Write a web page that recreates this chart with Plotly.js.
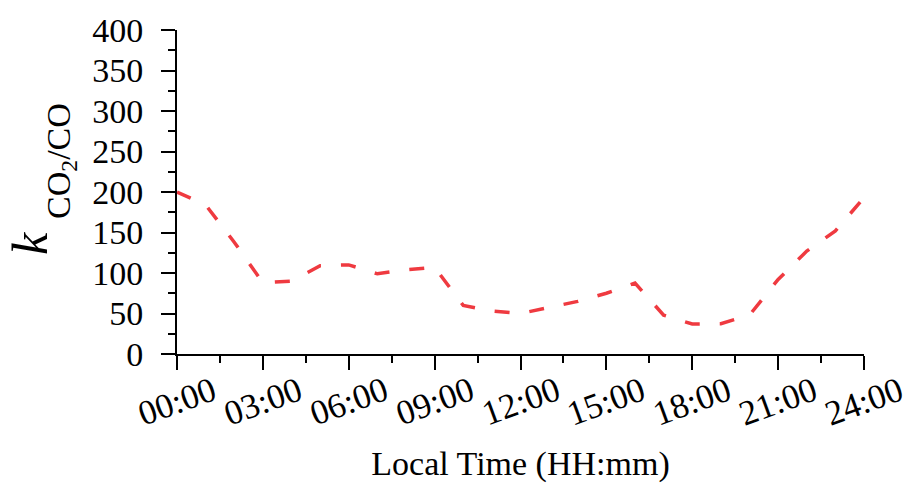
<!DOCTYPE html>
<html>
<head>
<meta charset="utf-8">
<script src="https://cdn.plot.ly/plotly-3.0.1.min.js"></script>
<style>
  html, body { margin: 0; padding: 0; background: #ffffff; }
  #chart { width: 904px; height: 484px; }
</style>
</head>
<body>
<div id="chart"></div>
<script>
// Diurnal CO2/CO ratio, hour of day (local time)
const hours = [0, 1, 2, 3, 4, 5, 6, 7, 8, 9, 10, 11, 12,
               13, 14, 15, 16, 17, 18, 19, 20, 21, 22, 23, 24];
const kRatio = [200, 184, 138, 88, 90, 109, 110, 99, 104, 107, 60, 53, 50,
                58, 65, 75, 87.5, 48, 37, 37.5, 48, 92, 127, 152, 193];

// x-axis tick positions (hours) and their labels
const tickHours = [0, 3, 6, 9, 12, 15, 18, 21, 24];
const tickLabels = ['00:00', '03:00', '06:00', '09:00', '12:00',
                    '15:00', '18:00', '21:00', '24:00'];

const W = 904, H = 484;
const M = { l: 177, r: 40, t: 30, b: 130 };
const plotW = W - M.l - M.r, plotH = H - M.t - M.b;
const serif = '"Liberation Serif", "Times New Roman", Times, serif';

// pixel -> paper helpers for text placed outside the plot area
const px = x => (x - M.l) / plotW;
const py = y => (H - M.b - y) / plotH;

const trace = {
  x: hours,
  y: kRatio,
  type: 'scatter',
  mode: 'lines',
  line: { color: '#EF3A40', width: 3.5, dash: '15px,20px' },
  hoverinfo: 'x+y'
};

const tickAnnotations = tickHours.map((h, i) => ({
  x: h, xref: 'x',
  y: py(401), yref: 'paper',
  text: tickLabels[i],
  textangle: -20,
  showarrow: false,
  xanchor: 'center', yanchor: 'middle',
  font: { family: serif, size: 35, color: '#000' }
}));

const titleAnnotations = [
  {
    x: px(30), xref: 'paper', y: py(244), yref: 'paper',
    text: '<i>k</i>', textangle: -90, showarrow: false,
    xanchor: 'center', yanchor: 'middle',
    font: { family: serif, size: 50, color: '#000' }
  },
  {
    x: px(61), xref: 'paper', y: py(161), yref: 'paper',
    text: 'CO<sub>2</sub>/CO', textangle: -90, showarrow: false,
    xanchor: 'center', yanchor: 'middle',
    font: { family: serif, size: 34, color: '#000' }
  }
];

const layout = {
  width: W, height: H,
  margin: M,
  paper_bgcolor: '#ffffff',
  plot_bgcolor: '#ffffff',
  showlegend: false,
  font: { family: serif, size: 34, color: '#000' },
  xaxis: {
    range: [0, 24],
    showgrid: false, zeroline: false,
    showline: true, linecolor: '#000', linewidth: 2,
    ticks: 'outside', ticklen: 14, tickwidth: 2, tickcolor: '#000',
    tickmode: 'array', tickvals: tickHours,
    showticklabels: false,
    minor: { dtick: 1.5, tick0: 0, ticks: 'outside', ticklen: 7, tickwidth: 2, tickcolor: '#000' },
    title: {
      text: 'Local Time (HH:mm)',
      font: { family: serif, size: 34, color: '#000' },
      standoff: 82
    }
  },
  yaxis: {
    range: [0, 400],
    showgrid: false, zeroline: false,
    showline: true, linecolor: '#000', linewidth: 2,
    ticks: 'outside', ticklen: 14, tickwidth: 2, tickcolor: '#000',
    tick0: 0, dtick: 50,
    ticklabelstandoff: 11,
    tickfont: { family: serif, size: 34, color: '#000' },
    minor: { dtick: 25, tick0: 0, ticks: 'outside', ticklen: 7, tickwidth: 2, tickcolor: '#000' }
  },
  annotations: tickAnnotations.concat(titleAnnotations)
};

Plotly.newPlot('chart', [trace], layout, { displayModeBar: false, staticPlot: true });
</script>
</body>
</html>
